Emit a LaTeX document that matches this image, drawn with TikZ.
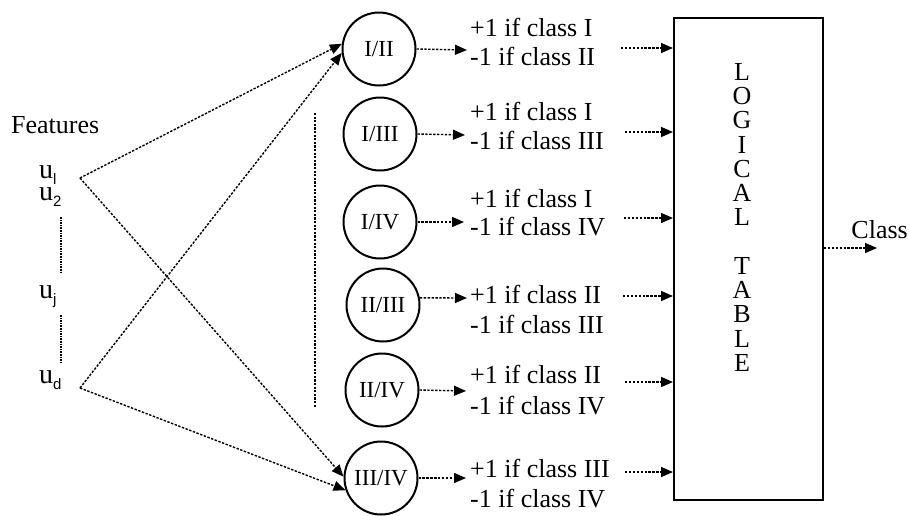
\documentclass[tikz,border=0pt]{standalone}
\usepackage{fontspec}
\setmainfont{Liberation Serif}
\newfontfamily\sansf{Liberation Sans}
\usetikzlibrary{arrows.meta}
\begin{document}
\begin{tikzpicture}[x=1pt,y=-1pt,
  conn/.style={line width=1.4pt, dash pattern=on 2.4pt off 1.5pt, -{Triangle[length=12pt,width=10pt]}},
  vdot/.style={line width=1.2pt, dash pattern=on 1.5pt off 1.1pt},
  vdotthick/.style={line width=2.6pt, dash pattern=on 2.2pt off 1.4pt},
  clf/.style={circle, draw, line width=2pt, minimum size=73pt, inner sep=0pt, font=\fontsize{23}{27}\selectfont},
  txt/.style={anchor=base west, inner sep=0pt, font=\fontsize{26}{30}\selectfont},
  lbl/.style={anchor=base west, inner sep=0pt, font=\fontsize{26}{30}\selectfont},
  ulbl/.style={anchor=base west, inner sep=0pt, font=\fontsize{28}{30}\selectfont},
  letter/.style={inner sep=0pt, font=\fontsize{26}{26}\selectfont},
]
\useasboundingbox (0,0) rectangle (909,515);
\newcommand{\usub}[1]{u\raisebox{-6pt}{\sansf\fontsize{15}{15}\selectfont #1}}

% features
\node[lbl] (feat) at (11,133) {Features};
\node[ulbl] (u1) at (39,178) {\usub{l}};
\node[ulbl] (u2) at (39,200) {\usub{2}};
\node[ulbl] (uj) at (39,298) {\usub{j}};
\node[ulbl] (ud) at (39,383) {\usub{d}};
\coordinate (p1) at (80,178);
\coordinate (pd) at (80,388);
\coordinate (v1a) at (61,217);
\coordinate (v1b) at (61,273);
\coordinate (v2a) at (61,315);
\coordinate (v2b) at (61,363);
\draw[vdot] (v1a) -- (v1b);
\draw[vdot] (v2a) -- (v2b);

% classifiers
\node[clf] (c1) at (379,49) {I/II};
\node[clf] (c2) at (380,134) {I/III};
\node[clf] (c3) at (380,222) {I/IV};
\node[clf] (c4) at (383,305) {II/III};
\node[clf] (c5) at (382,390) {II/IV};
\node[clf] (c6) at (381,478) {III/IV};

\coordinate (vd1) at (315,113);
\coordinate (vd2) at (315,408);
\draw[vdotthick] (vd1) -- (vd2);

% feature connectors
\draw[conn] (p1) -- (c1.172);
\draw[conn] (pd) -- (c1.186);
\draw[conn] (p1) -- (c6.178);
\draw[conn] (pd) -- (c6.199);

% outputs
\node[txt] (t1a) at (470,36) {+1 if class I};
\node[txt] (t1b) at (470,65) {-1 if class II};
\node[txt] (t2a) at (470,120) {+1 if class I};
\node[txt] (t2b) at (470,149) {-1 if class III};
\node[txt] (t3a) at (470,207) {+1 if class I};
\node[txt] (t3b) at (470,235) {-1 if class IV};
\node[txt] (t4a) at (470,303) {+1 if class II};
\node[txt] (t4b) at (470,333) {-1 if class III};
\node[txt] (t5a) at (470,383) {+1 if class II};
\node[txt] (t5b) at (470,414) {-1 if class IV};
\node[txt] (t6a) at (470,477) {+1 if class III};
\node[txt] (t6b) at (470,507) {-1 if class IV};

\coordinate (a1) at (467,50);
\coordinate (a2) at (465,135);
\coordinate (a3) at (464,222);
\coordinate (a4) at (467,298);
\coordinate (a5) at (466,391);
\coordinate (a6) at (466,478);
\draw[conn] (c1.east) -- (a1);
\draw[conn] (c2.east) -- (a2);
\draw[conn] (c3.east) -- (a3);
\draw[conn] (c4.11) -- (a4);
\draw[conn] (c5.east) -- (a5);
\draw[conn] (c6.east) -- (a6);

% logical table
\node[draw, line width=2pt, minimum width=149pt, minimum height=482pt, inner sep=0pt] (box) at (748.5,259) {};
\foreach \ch/\yy in {L/72, O/96, G/120, I/145, C/169, A/193, L/217, T/266, A/290, B/314, L/339, E/363}{
  \node[letter] at (742,\yy) {\ch};
}

\coordinate (s1) at (621,48);
\coordinate (s2) at (625,132);
\coordinate (s3) at (624,218);
\coordinate (s4) at (623,296);
\coordinate (s5) at (625,382);
\coordinate (s6) at (625,472);
\foreach \s in {s1,s2,s3,s4,s5,s6}{
  \draw[conn] (\s) -- (box.west |- \s);
}

\node[lbl, anchor=base east] (cls) at (908,238) {Class};
\coordinate (clsend) at (877,248);
\draw[conn] (box.east |- clsend) -- (clsend);
\end{tikzpicture}
\end{document}
